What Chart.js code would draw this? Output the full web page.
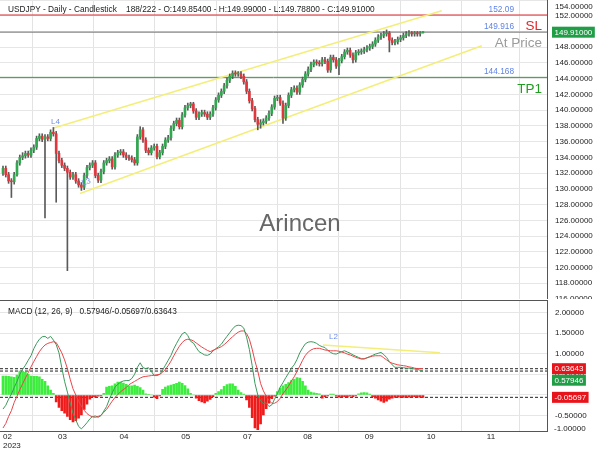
<!DOCTYPE html>
<html>
<head>
<meta charset="utf-8">
<title>USDJPY Daily</title>
<script src="https://cdn.jsdelivr.net/npm/chart.js@4.4.0/dist/chart.umd.min.js"></script>
<style>
  html, body { margin: 0; padding: 0; background: #fff; }
  #wrap { position: relative; width: 600px; height: 450px; overflow: hidden; }
  #pricePane { position: absolute; left: 0; top: 0; width: 600px; height: 299px; }
  #macdPane { position: absolute; left: 0; top: 299px; width: 600px; height: 151px; }
</style>
</head>
<body>
<div id="wrap">
  <div id="pricePane"><canvas id="priceCanvas"></canvas></div>
  <div id="macdPane"><canvas id="macdCanvas"></canvas></div>
</div>
<script>
// daily candles, Feb - Sep 2023
const opens = [
  132.0, 132.6, 131.8, 131.0, 130.9, 131.8, 133.3, 134.0, 134.2, 134.5,
  134.3, 134.9, 135.3, 136.4, 136.7, 136.3, 136.6, 136.4, 137.2, 137.0,
  134.5, 133.6, 133.0, 132.6, 132.1, 131.5, 131.8, 131.0, 130.5, 130.2,
  131.7, 132.7, 133.0, 133.3, 131.7, 131.1, 132.2, 133.3, 133.6, 133.8,
  132.8, 134.3, 134.6, 134.7, 134.3, 134.0, 133.9, 133.7, 133.3, 136.6,
  137.5, 136.2, 134.9, 134.6, 135.2, 135.4, 134.1, 134.6, 135.4, 136.2,
  136.5, 137.7, 138.3, 138.7, 137.9, 139.4, 140.3, 140.6, 140.8, 139.9,
  139.1, 139.5, 139.7, 139.5, 139.1, 139.5, 140.3, 141.3, 141.9, 142.4,
  143.1, 143.8, 144.3, 144.7, 144.6, 144.6, 144.3, 143.6, 142.4, 141.2,
  140.2, 138.8, 138.2, 138.4, 138.6, 139.0, 139.6, 140.4, 141.5, 141.6,
  140.9, 139.0, 140.6, 141.9, 142.6, 142.8, 142.3, 143.2, 143.9, 144.6,
  145.2, 145.8, 146.1, 146.0, 145.9, 146.4, 146.2, 145.1, 146.7, 146.4,
  145.6, 146.3, 146.8, 147.4, 147.6, 147.0, 146.4, 147.3, 147.4, 147.5,
  147.7, 147.9, 148.1, 148.4, 148.9, 149.3, 149.5, 149.7, 149.8, 148.9,
  148.6, 148.7, 149.0, 149.2, 149.5, 149.7, 149.8, 149.7, 149.8, 149.7,
  149.854
]
const highs = [
  132.9, 132.9, 132.1, 131.3, 132.1, 133.6, 134.3, 134.6, 134.8, 134.8,
  135.2, 135.6, 136.7, 137.0, 137.0, 136.9, 136.9, 137.5, 137.8, 137.3,
  134.8, 133.9, 133.3, 132.9, 132.4, 132.1, 132.1, 131.3, 130.8, 132.0,
  133.0, 133.3, 133.6, 133.6, 132.0, 132.5, 133.6, 133.9, 134.1, 134.1,
  134.6, 134.9, 135.0, 135.0, 134.6, 134.3, 134.2, 134.0, 136.9, 137.9,
  137.8, 136.5, 135.2, 135.5, 135.7, 135.7, 134.9, 135.7, 136.5, 136.8,
  138.0, 138.6, 139.0, 139.0, 139.7, 140.6, 140.9, 141.0, 141.0, 140.2,
  139.8, 140.0, 140.0, 139.8, 139.8, 140.6, 141.6, 142.2, 142.7, 143.4,
  144.1, 144.6, 145.0, 145.0, 144.9, 144.9, 144.6, 143.9, 142.7, 141.5,
  140.5, 139.1, 138.8, 138.9, 139.3, 139.9, 140.7, 141.8, 141.9, 141.9,
  141.2, 140.9, 142.2, 142.9, 143.1, 143.1, 143.5, 144.2, 144.9, 145.5,
  146.1, 146.4, 146.4, 146.3, 146.7, 146.7, 146.5, 147.0, 147.0, 146.7,
  146.6, 147.1, 147.7, 147.9, 147.9, 147.3, 147.6, 147.7, 147.8, 148.0,
  148.2, 148.4, 148.7, 149.2, 149.6, 149.8, 150.0, 150.2, 150.0, 149.2,
  149.0, 149.3, 149.5, 149.8, 150.0, 150.1, 150.0, 150.0, 150.0, 150.0,
  149.99
]
const lows = [
  131.7, 131.5, 130.7, 128.9, 130.6, 131.6, 133.0, 133.7, 133.9, 134.0,
  134.0, 134.6, 135.0, 136.1, 136.0, 126.3, 136.1, 136.1, 136.7, 128.3,
  133.3, 132.7, 132.3, 119.6, 131.2, 131.2, 130.7, 130.2, 129.8, 129.9,
  131.4, 132.4, 132.7, 131.4, 130.8, 130.8, 131.9, 133.0, 133.3, 132.5,
  132.5, 134.0, 134.3, 134.0, 133.7, 133.6, 133.4, 133.0, 133.0, 136.3,
  135.9, 134.6, 134.3, 134.3, 134.9, 133.8, 133.8, 134.3, 135.1, 135.9,
  136.2, 137.4, 138.0, 137.6, 137.6, 139.1, 140.0, 140.3, 139.6, 138.8,
  138.8, 139.2, 139.2, 138.8, 138.8, 139.2, 140.0, 141.0, 141.6, 142.1,
  142.8, 143.5, 144.0, 144.3, 144.3, 144.0, 143.3, 142.1, 140.9, 139.9,
  138.5, 137.5, 137.7, 138.1, 138.3, 138.7, 139.3, 140.1, 141.2, 140.6,
  138.3, 138.7, 140.3, 141.6, 142.3, 142.0, 142.0, 142.9, 143.6, 144.3,
  144.9, 145.5, 145.7, 145.6, 145.6, 145.9, 144.8, 144.8, 146.1, 145.3,
  144.5, 146.0, 146.5, 147.1, 146.7, 146.0, 146.1, 147.0, 147.1, 147.2,
  147.4, 147.6, 147.8, 148.1, 148.6, 149.0, 149.2, 149.4, 147.4, 148.3,
  148.3, 148.4, 148.7, 148.9, 149.2, 149.4, 149.4, 149.4, 149.4, 149.4,
  149.788
]
const closes = [
  132.6, 131.8, 131.0, 130.9, 131.8, 133.3, 134.0, 134.2, 134.5, 134.3,
  134.9, 135.3, 136.4, 136.7, 136.3, 136.6, 136.4, 137.2, 137.0, 134.5,
  133.6, 133.0, 132.6, 132.1, 131.5, 131.8, 131.0, 130.5, 130.2, 131.7,
  132.7, 133.0, 133.3, 131.7, 131.1, 132.2, 133.3, 133.6, 133.8, 132.8,
  134.3, 134.6, 134.7, 134.3, 134.0, 133.9, 133.7, 133.3, 136.6, 137.5,
  136.2, 134.9, 134.6, 135.2, 135.4, 134.1, 134.6, 135.4, 136.2, 136.5,
  137.7, 138.3, 138.7, 137.9, 139.4, 140.3, 140.6, 140.8, 139.9, 139.1,
  139.5, 139.7, 139.5, 139.1, 139.5, 140.3, 141.3, 141.9, 142.4, 143.1,
  143.8, 144.3, 144.7, 144.6, 144.6, 144.3, 143.6, 142.4, 141.2, 140.2,
  138.8, 138.2, 138.4, 138.6, 139.0, 139.6, 140.4, 141.5, 141.6, 140.9,
  139.0, 140.6, 141.9, 142.6, 142.8, 142.3, 143.2, 143.9, 144.6, 145.2,
  145.8, 146.1, 146.0, 145.9, 146.4, 146.2, 145.1, 146.7, 146.4, 145.6,
  146.3, 146.8, 147.4, 147.6, 147.0, 146.4, 147.3, 147.4, 147.5, 147.7,
  147.9, 148.1, 148.4, 148.9, 149.3, 149.5, 149.7, 149.8, 148.9, 148.6,
  148.7, 149.0, 149.2, 149.5, 149.7, 149.8, 149.7, 149.8, 149.7, 149.8,
  149.91
]

// MACD (12, 26, 9)
const macdLine = [
  -0.34, -0.25, -0.10, 0.02, 0.18, 0.33, 0.50, 0.62, 0.72, 0.84,
  0.95, 1.12, 1.25, 1.35, 1.41, 1.42, 1.37, 1.42, 1.33, 1.22,
  1.02, 0.66, 0.33, 0.07, -0.19, -0.44, -0.60, -0.76, -0.82, -0.75,
  -0.67, -0.58, -0.52, -0.51, -0.54, -0.50, -0.39, -0.28, -0.10, 0.05,
  0.19, 0.26, 0.31, 0.34, 0.35, 0.35, 0.40, 0.50, 0.67, 0.78,
  0.66, 0.64, 0.66, 0.57, 0.47, 0.47, 0.50, 0.60, 0.72, 0.84,
  0.96, 1.12, 1.25, 1.37, 1.48, 1.52, 1.44, 1.30, 1.26, 1.15,
  1.05, 1.01, 0.97, 0.96, 0.99, 1.07, 1.12, 1.17, 1.23, 1.33,
  1.42, 1.51, 1.60, 1.67, 1.69, 1.68, 1.62, 1.40, 1.10, 0.71,
  0.28, 0.00, -0.14, -0.21, -0.19, -0.28, -0.24, -0.10, 0.03, 0.19,
  0.30, 0.42, 0.53, 0.65, 0.73, 0.86, 1.02, 1.14, 1.24, 1.28,
  1.29, 1.28, 1.25, 1.20, 1.17, 1.15, 1.08, 1.03, 1.00, 0.99,
  1.02, 1.05, 1.07, 1.04, 1.01, 0.97, 0.94, 0.91, 0.88, 0.87,
  0.90, 0.93, 0.96, 0.99, 1.01, 1.03, 0.98, 0.91, 0.81, 0.73,
  0.67, 0.67, 0.67, 0.66, 0.65, 0.65, 0.64, 0.63, 0.62, 0.60,
  0.57946
]
const signalLine = [
  -0.80, -0.69, -0.52, -0.38, -0.18, -0.03, 0.13, 0.27, 0.41, 0.54,
  0.68, 0.81, 0.93, 1.05, 1.14, 1.21, 1.25, 1.27, 1.29, 1.27,
  1.15, 1.02, 0.85, 0.64, 0.38, 0.15, 0.00, -0.15, -0.27, -0.37,
  -0.45, -0.50, -0.53, -0.54, -0.52, -0.49, -0.42, -0.35, -0.25, -0.15,
  -0.06, 0.01, 0.08, 0.13, 0.18, 0.25, 0.29, 0.33, 0.37, 0.41,
  0.44, 0.45, 0.46, 0.47, 0.48, 0.49, 0.50, 0.55, 0.62, 0.71,
  0.82, 0.95, 1.07, 1.18, 1.27, 1.33, 1.35, 1.34, 1.31, 1.26,
  1.21, 1.16, 1.12, 1.08, 1.05, 1.08, 1.11, 1.14, 1.17, 1.22,
  1.28, 1.35, 1.41, 1.47, 1.52, 1.55, 1.55, 1.49, 1.35, 1.11,
  0.82, 0.58, 0.28, 0.10, -0.03, -0.13, -0.20, -0.20, -0.16, -0.08,
  0.03, 0.12, 0.22, 0.34, 0.44, 0.57, 0.70, 0.84, 0.96, 1.04,
  1.09, 1.12, 1.13, 1.13, 1.11, 1.09, 1.08, 1.07, 1.07, 1.07,
  1.06, 1.04, 1.02, 0.99, 0.97, 0.94, 0.91, 0.89, 0.87, 0.88,
  0.90, 0.92, 0.94, 0.95, 0.95, 0.95, 0.90, 0.85, 0.80, 0.77,
  0.75, 0.73, 0.72, 0.71, 0.70, 0.68, 0.67, 0.65, 0.64, 0.64,
  0.63643
]
const histogram = [
  0.46, 0.46, 0.45, 0.44, 0.43, 0.48, 0.58, 0.57, 0.55, 0.50,
  0.46, 0.45, 0.45, 0.44, 0.38, 0.33, 0.22, 0.12, 0.04, -0.17,
  -0.30, -0.38, -0.44, -0.52, -0.60, -0.65, -0.62, -0.56, -0.48, -0.35,
  -0.22, -0.10, -0.04, -0.05, -0.03, -0.02, 0.04, 0.19, 0.21, 0.22,
  0.27, 0.31, 0.31, 0.29, 0.26, 0.22, 0.22, 0.24, 0.21, 0.18,
  0.12, 0.03, 0.01, 0.00, -0.05, -0.09, -0.02, 0.14, 0.19, 0.22,
  0.24, 0.26, 0.28, 0.31, 0.28, 0.23, 0.15, 0.04, 0.00, -0.08,
  -0.14, -0.17, -0.19, -0.15, -0.11, -0.04, 0.04, 0.08, 0.13, 0.21,
  0.25, 0.27, 0.27, 0.21, 0.12, 0.06, 0.02, -0.12, -0.30, -0.55,
  -0.80, -0.84, -0.70, -0.48, -0.33, -0.20, -0.09, -0.03, 0.08, 0.17,
  0.22, 0.26, 0.30, 0.35, 0.38, 0.42, 0.41, 0.33, 0.22, 0.12,
  0.07, 0.05, 0.04, 0.03, -0.08, -0.04, -0.02, 0.02, 0.02, -0.03,
  -0.05, -0.05, -0.04, -0.05, -0.03, -0.04, -0.02, 0.03, 0.05, 0.06,
  0.05, 0.02, -0.04, -0.08, -0.12, -0.15, -0.18, -0.15, -0.10, -0.08,
  -0.06, -0.05, -0.05, -0.06, -0.05, -0.05, -0.05, -0.04, -0.05, -0.05,
  -0.05697
]

// x axis: bar index; month ticks
const X_MIN = -1.07
const X_MAX = 194.3
const monthTicks = [0, 21.25, 43.2, 65.25, 87.3, 108.8, 130.8, 152.9, 174.3, X_MAX]
const monthLabels = [['02', '2023'], '03', '04', '05', '07', '08', '09', '10', '11', '']
const priceTicks = [116, 118, 120, 122, 124, 126, 128, 130, 132, 134, 136, 138, 140, 142, 144, 146, 148, 150, 152, 154]
const macdTicks = [-0.5, 0, 0.5, 1, 1.5, 2]

// drawn objects: trade levels and trend lines (bar index, value)
const levelValues = [152.09, 149.916, 144.168]
const levelNames = ['SL', 'At Price', 'TP1']
const levelLineColors = ['#d9262c', '#707070', '#2f9a2f']
const levelNameColors = ['#e0262b', '#9b9b9b', '#229c22']
const channelUpper = [{ x: 17.86, y: 137.71 }, { x: 156.7, y: 152.64 }]
const channelLower = [{ x: 27.5, y: 129.41 }, { x: 171, y: 148.18 }]
const macdTrend = [{ x: 114.3, y: 1.21 }, { x: 156.1, y: 1.02 }]
const macdMarks = [0.63643, 0.57946, -0.05697]

const FONT = '"Liberation Sans", Arial, sans-serif'
Chart.defaults.font.family = FONT
Chart.defaults.font.size = 8
Chart.defaults.color = '#222'

const UP = '#2fa84f'
const DOWN = '#e0363c'
const YELLOW = '#f4ee78'
const idx = closes.map((c, i) => i)

// no label padding: panes must fill their canvas exactly
function noPad (s) {
  s.paddingTop = 0
  s.paddingBottom = 0
  s.paddingLeft = 0
  s.paddingRight = 0
}

function xScale (showLabels) {
  return {
    type: 'linear',
    min: X_MIN,
    max: X_MAX,
    offset: false,
    afterBuildTicks: s => { s.ticks = monthTicks.map(v => ({ value: v })) },
    afterFit: s => { s.height = showLabels ? 18.5 : 0; noPad(s) },
    grid: { color: '#e3e3e3', drawTicks: false },
    border: { display: showLabels, color: '#555' },
    ticks: {
      display: showLabels,
      align: 'inner',
      padding: 1,
      maxRotation: 0,
      autoSkip: false,
      color: '#222',
      font: { size: 8, lineHeight: 1.1 },
      callback: (v, i) => monthLabels[i]
    }
  }
}

function yScale (min, max, ticks, label) {
  return {
    position: 'right',
    min,
    max,
    afterBuildTicks: s => { s.ticks = ticks.map(v => ({ value: v })) },
    afterFit: s => { s.width = 53; noPad(s) },
    grid: { color: '#e6e6e6', drawTicks: false },
    border: { color: '#555' },
    ticks: { padding: 8, color: '#222', font: { size: 8 }, callback: label }
  }
}

function hLine (value) {
  return [{ x: X_MIN, y: value }, { x: X_MAX, y: value }]
}

function valueBox (ctx, text, left, cy, fill) {
  ctx.font = '8px ' + FONT
  const w = ctx.measureText(text).width + 5
  ctx.fillStyle = fill
  ctx.fillRect(left, cy - 5.5, w, 11)
  ctx.fillStyle = '#fff'
  ctx.textAlign = 'left'
  ctx.textBaseline = 'middle'
  ctx.fillText(text, left + 2.5, cy + 0.5)
}

// texts drawn over the price pane
const priceOverlay = {
  id: 'priceOverlay',
  afterDraw (chart) {
    const { ctx, chartArea: a, scales: { x, y } } = chart
    ctx.save()
    ctx.textBaseline = 'middle'

    ctx.font = '8.3px ' + FONT
    ctx.fillStyle = '#222'
    ctx.textAlign = 'left'
    ctx.fillText('USDJPY - Daily - Candlestick    188/222 - O:149.85400 - H:149.99000 - L:149.78800 - C:149.91000', 8, 10)

    levelValues.forEach((v, k) => {
      const py = y.getPixelForValue(v)
      ctx.textAlign = 'right'
      ctx.font = '8.3px ' + FONT
      ctx.fillStyle = '#5f82e4'
      ctx.fillText(String(v), a.right - 33, py - 5.5)
      ctx.font = '13.5px ' + FONT
      ctx.fillStyle = levelNameColors[k]
      ctx.fillText(levelNames[k], a.right - 5, py + 11.5)
    })

    // watermark
    ctx.font = '24px ' + FONT
    ctx.fillStyle = '#676767'
    ctx.textAlign = 'center'
    ctx.fillText('Arincen', 300, 224)

    // channel anchor names
    ctx.font = '8px ' + FONT
    ctx.fillStyle = '#6f8fe6'
    ctx.textAlign = 'left'
    ctx.fillText('L4', x.getPixelForValue(channelUpper[0].x) - 2, y.getPixelForValue(channelUpper[0].y) - 6)
    ctx.save()
    ctx.translate(x.getPixelForValue(channelLower[0].x) + 2, y.getPixelForValue(channelLower[0].y) - 10)
    ctx.rotate(-0.33)
    ctx.fillText('L3', 0, 0)
    ctx.restore()

    // top tick label sits clamped inside the pane
    ctx.font = '8px ' + FONT
    ctx.fillStyle = '#222'
    ctx.textAlign = 'left'
    ctx.fillText('154.00000', a.right + 8, 7)

    // last price box
    const last = closes[closes.length - 1]
    valueBox(ctx, last.toFixed(5), a.right + 5, y.getPixelForValue(last), '#1f9e46')
    ctx.restore()
  }
}

const macdOverlay = {
  id: 'macdOverlay',
  afterDraw (chart) {
    const { ctx, chartArea: a, scales: { x, y } } = chart
    ctx.save()
    ctx.strokeStyle = '#555'
    ctx.lineWidth = 1
    ctx.beginPath()
    ctx.moveTo(0, a.top + 0.5)
    ctx.lineTo(a.right, a.top + 0.5)
    ctx.stroke()

    ctx.textBaseline = 'middle'
    ctx.font = '8.3px ' + FONT
    ctx.fillStyle = '#222'
    ctx.textAlign = 'left'
    ctx.fillText('MACD (12, 26, 9)   0.57946/-0.05697/0.63643', 8, 13)

    ctx.font = '8px ' + FONT
    ctx.fillStyle = '#6f8fe6'
    ctx.fillText('L2', x.getPixelForValue(macdTrend[0].x) + 6, y.getPixelForValue(macdTrend[0].y) - 8)

    ctx.fillStyle = '#222'
    ctx.fillText('-1.00000', a.right + 7, a.bottom - 2.5)

    const ySig = y.getPixelForValue(macdMarks[0])
    const yMacd = Math.max(y.getPixelForValue(macdMarks[1]), ySig + 11.5)
    valueBox(ctx, macdMarks[0].toFixed(5), a.right + 5, ySig, '#e8141b')
    valueBox(ctx, macdMarks[1].toFixed(5), a.right + 5, yMacd, '#1f9e46')
    valueBox(ctx, macdMarks[2].toFixed(5), a.right + 5, y.getPixelForValue(macdMarks[2]), '#e8141b')
    ctx.restore()
  }
}

const lineDefaults = { type: 'line', pointRadius: 0, tension: 0, fill: false }

new Chart(document.getElementById('priceCanvas'), {
  type: 'bar',
  data: {
    datasets: [
      {
        label: 'body',
        data: idx.map(i => ({ x: i, y: [opens[i], closes[i]] })),
        backgroundColor: idx.map(i => closes[i] >= opens[i] ? UP : DOWN),
        barThickness: 2,
        minBarLength: 1,
        grouped: false,
        order: 0
      },
      {
        label: 'wick',
        data: idx.map(i => ({ x: i, y: [lows[i], highs[i]] })),
        backgroundColor: '#5a5a5a',
        barThickness: 1,
        grouped: false,
        order: 1
      },
      { ...lineDefaults, label: 'upper', data: channelUpper, borderColor: YELLOW, borderWidth: 1.5, order: 4 },
      { ...lineDefaults, label: 'lower', data: channelLower, borderColor: YELLOW, borderWidth: 1.5, order: 4 },
      ...levelValues.map((v, k) => ({
        ...lineDefaults, label: levelNames[k], data: hLine(v), borderColor: levelLineColors[k], borderWidth: 1, order: 5
      }))
    ]
  },
  options: {
    responsive: true,
    maintainAspectRatio: false,
    animation: false,
    events: [],
    layout: { padding: 0 },
    plugins: { legend: { display: false }, tooltip: { enabled: false } },
    scales: {
      x: xScale(false),
      y: yScale(116, 154, priceTicks, v => v === 154 ? '' : v.toFixed(5))
    }
  },
  plugins: [priceOverlay]
})

new Chart(document.getElementById('macdCanvas'), {
  type: 'bar',
  data: {
    datasets: [
      { ...lineDefaults, label: 'MACD', data: idx.map(i => ({ x: i, y: macdLine[i] })), borderColor: '#3a9a5c', borderWidth: 1, order: 1 },
      { ...lineDefaults, label: 'Signal', data: idx.map(i => ({ x: i, y: signalLine[i] })), borderColor: '#e8454a', borderWidth: 1, order: 0 },
      {
        label: 'Histogram',
        data: idx.map(i => ({ x: i, y: histogram[i] })),
        backgroundColor: histogram.map(v => v >= 0 ? '#3ded3d' : '#ef1b1b'),
        barThickness: 2,
        grouped: false,
        order: 3
      },
      { ...lineDefaults, label: 'trend', data: macdTrend, borderColor: YELLOW, borderWidth: 1.5, order: 2 },
      ...macdMarks.map(v => ({
        ...lineDefaults, label: 'mark', data: hLine(v), borderColor: '#222', borderWidth: 1, borderDash: [3, 2], order: 4
      }))
    ]
  },
  options: {
    responsive: true,
    maintainAspectRatio: false,
    animation: false,
    events: [],
    layout: { padding: { top: 1 } },
    plugins: { legend: { display: false }, tooltip: { enabled: false } },
    scales: {
      x: xScale(true),
      y: yScale(-0.884, 2.30, macdTicks, v => v.toFixed(5))
    }
  },
  plugins: [macdOverlay]
})
</script>
</body>
</html>
